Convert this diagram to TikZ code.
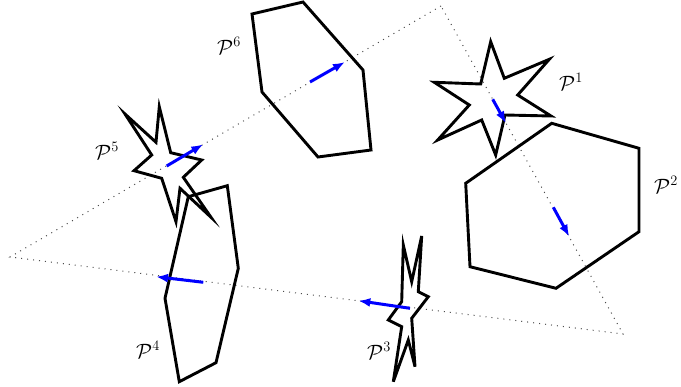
\documentclass[tikz,border=0pt]{standalone}
\usetikzlibrary{arrows.meta}
\begin{document}
\begin{tikzpicture}[x=1pt,y=-1pt,
  poly/.style={draw=black,line width=2.9pt,line join=miter,miter limit=10},
  guide/.style={draw=black!70,line width=1pt,dash pattern=on 1pt off 5pt},
  dirarrow/.style={draw=blue,line width=3pt,-{Latex[length=12pt,width=9pt]}},
  lbl/.style={font=\fontsize{22}{26}\selectfont,inner sep=0pt}]
\useasboundingbox (0,0) rectangle (681,387);
% dotted triangle
\coordinate (T1) at (441,6);
\coordinate (T2) at (10,257);
\coordinate (T3) at (623,334);
\draw[guide] (T1) -- (T2) -- (T3) -- cycle;
% P6
\draw[poly] (252,14) -- (303,2) -- (363,70) -- (371,150) -- (318,157) -- (262,92) -- cycle;
% P1 star
\draw[poly] (490.7,41.7) -- (504.3,78.3) -- (549.3,59.3) -- (517.7,95) -- (551,116) -- (505,115)
  -- (495.7,155) -- (481.7,120) -- (437.7,140) -- (469.3,105) -- (434.3,82.3) -- (480.7,84) -- cycle;
% P2
\draw[poly] (551.7,123.3) -- (639,148.3) -- (639,231.7) -- (556,288.3) -- (470,266.7) -- (465.7,183.3) -- cycle;
% P5 star
\draw[poly] (125,114) -- (156,142.3) -- (159.3,106.7) -- (170.7,152.7) -- (201.7,160) -- (183.3,177.3)
  -- (211,217.3) -- (180,188.3) -- (176,221.7) -- (161.7,178.3) -- (134,170.7) -- (151.7,155) -- cycle;
% P4
\draw[poly] (188.3,196.7) -- (227.3,185.7) -- (238.3,268.3) -- (216,362.7) -- (179.3,381.7) -- (165,298.3) -- cycle;
% P3
\draw[poly] (403.3,245) -- (411.7,281.7) -- (421.7,236) -- (418.3,291.7) -- (428.3,296.7) -- (411.7,318.3)
  -- (415,366.7) -- (408.3,340) -- (393.3,381.7) -- (401.7,326.7) -- (388.3,320) -- (401.7,301.7) -- cycle;
% arrows
\coordinate (a6s) at (310,82);    \coordinate (a6e) at (345,62);
\coordinate (a1s) at (492.7,99.3);\coordinate (a1e) at (506,123.3);
\coordinate (a2s) at (553.3,207.3);\coordinate (a2e) at (569.3,236.7);
\coordinate (a5s) at (166.7,166); \coordinate (a5e) at (203.3,144.3);
\coordinate (a4s) at (203.3,282.3);\coordinate (a4e) at (156,276.7);
\coordinate (a3s) at (410,308.3); \coordinate (a3e) at (358.3,300.7);
\draw[dirarrow] (a6s) -- (a6e);
\draw[dirarrow] (a1s) -- (a1e);
\draw[dirarrow] (a2s) -- (a2e);
\draw[dirarrow] (a5s) -- (a5e);
\draw[dirarrow] (a4s) -- (a4e);
\draw[dirarrow] (a3s) -- (a3e);
% labels
\node[lbl] (L6) at (229,46) {$\mathcal{P}^6$};
\node[lbl] (L1) at (571,82) {$\mathcal{P}^1$};
\node[lbl] (L2) at (666,185) {$\mathcal{P}^2$};
\node[lbl] (L5) at (107,151) {$\mathcal{P}^5$};
\node[lbl] (L4) at (148,350) {$\mathcal{P}^4$};
\node[lbl] (L3) at (379,351) {$\mathcal{P}^3$};
\end{tikzpicture}
\end{document}
